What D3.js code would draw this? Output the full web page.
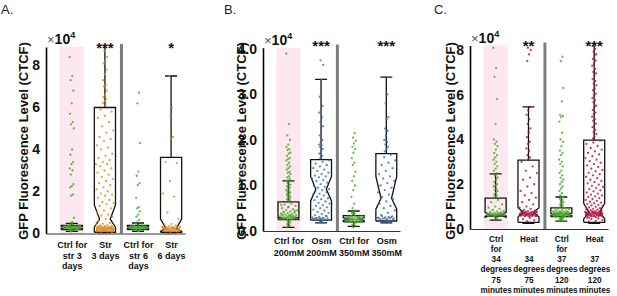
<!DOCTYPE html>
<html>
<head>
<meta charset="utf-8">
<script src="https://cdn.jsdelivr.net/npm/d3@7"></script>
<style>
body { margin: 0; background: #fff; }
svg { font-family: "Liberation Sans", Arial, sans-serif; }
</style>
</head>
<body>
<svg id="chart" width="617" height="296"></svg>
<script>
// all values in units of 1e4 (CTCF)
const labelsA = ["Ctrl for\nstr 3\ndays", "Str\n3 days", "Ctrl for\nstr 6\ndays", "Str\n6 days"];
const labelsB = ["Ctrl for\n200mM", "Osm\n200mM", "Ctrl for\n350mM", "Osm\n350mM"];
const labelsC = ["Ctrl\nfor\n34\ndegrees\n75\nminutes", "Heat\n\n34\ndegrees\n75\nminutes",
                 "Ctrl\nfor\n37\ndegrees\n120\nminutes", "Heat\n\n37\ndegrees\n120\nminutes"];
const ticksA = [0, 2, 4, 6, 8];
const ticksB = [0, 1, 2, 3, 4];
const ticksC = [0, 2, 4, 6, 8];
const starsA = ["", "***", "", "*"];
const starsB = ["", "***", "", "***"];
const starsC = ["", "**", "", "***"];

// box stats: [lower whisker, q1, notch low, median, notch high, q3, upper whisker]
const boxesA = [
  [0.1, 0.18, 0.24, 0.28, 0.32, 0.38, 0.48],
  [0.03, 0.06, 0.3, 0.68, 1.36, 6.0, 9.5],
  [0.1, 0.18, 0.24, 0.28, 0.32, 0.38, 0.5],
  [0.03, 0.06, 0.1, 0.24, 0.7, 3.62, 7.5]];
const boxesB = [
  [0.08, 0.25, 0.26, 0.28, 0.3, 0.64, 1.1],
  [0.18, 0.24, 0.66, 0.92, 1.2, 1.57, 3.33],
  [0.1, 0.2, 0.23, 0.26, 0.29, 0.34, 0.44],
  [0.18, 0.22, 0.48, 0.72, 1.2, 1.7, 3.38]];
const boxesC = [
  [0.4, 0.58, 0.52, 0.62, 0.74, 1.38, 2.46],
  [0.25, 0.3, 0.54, 0.76, 0.95, 3.08, 5.46],
  [0.35, 0.55, 0.6, 0.65, 0.7, 0.94, 1.43],
  [0.25, 0.3, 0.45, 0.75, 1.15, 3.97, 9.5]];

// cell measurements
const a_ctrl3 = [8.4,7.5,7.3,6.8,6.2,5.7,5.3,5.2,5.0,4.0,3.75,3.4,3.3,3.1,3.0,2.8,2.35,2.25,2.2,1.85,1.8,0.75,0.55,0.5,
  0.2,0.22,0.24,0.25,0.26,0.27,0.28,0.28,0.29,0.3,0.3,0.31,0.32,0.33,0.34,0.35,0.36,0.21,0.23,0.25,0.27,0.29,0.3,0.31,
  0.33,0.35,0.37,0.26,0.28,0.3,0.32,0.34,0.24,0.29,0.31,0.27,0.33,0.22,0.36,0.3,0.15,0.12,0.18,0.1,0.4,0.44];
const a_str3 = [8.7,8.4,8.2,8.1,7.8,7.6,7.3,7.1,7.0,6.8,6.6,6.5,6.4,6.3,6.2,6.1,
  5.9,5.8,5.6,5.5,5.3,5.1,4.9,4.8,4.6,4.5,4.4,4.2,4.1,4.0,3.8,3.7,3.6,3.5,3.4,3.3,3.3,3.2,3.1,3.0,2.9,2.8,2.7,2.6,2.5,
  2.4,2.3,2.2,2.1,2.0,1.9,1.85,1.8,1.7,1.6,1.5,1.45,1.4,1.3,1.2,1.1,1.0,0.9,0.85,0.8,0.7,0.6,
  0.5,0.46,0.42,0.4,0.38,0.36,0.35,0.33,0.32,0.31,0.3,0.29,0.28,0.27,0.26,0.25,0.25,0.24,0.23,0.22,0.22,0.21,0.2,0.2,
  0.19,0.18,0.18,0.17,0.16,0.15,0.15,0.14,0.13,0.12,0.12,0.11,0.1,0.09,0.08,0.07,0.3,0.27,0.24,0.21,0.19,0.17,0.34,
  0.28,0.23,0.16];
const a_ctrl6 = [6.7,6.2,4.3,2.95,2.75,2.4,2.3,1.7,1.25,1.2,1.05,0.9,0.8,0.65,0.55,0.48,
  0.2,0.22,0.23,0.24,0.25,0.26,0.27,0.28,0.28,0.29,0.3,0.3,0.31,0.32,0.33,0.34,0.35,0.36,0.37,0.21,0.24,0.26,0.27,
  0.29,0.3,0.31,0.32,0.34,0.25,0.28,0.3,0.33,0.22,0.27,0.29,0.35,0.15,0.12,0.17,0.1];
const a_str6 = [7.5,6.0,5.6,4.6,4.5,3.4,3.35,2.5,1.9,1.75,1.0,0.7,
  0.45,0.42,0.38,0.35,0.33,0.32,0.3,0.29,0.28,0.27,0.26,0.25,0.24,0.23,0.22,0.21,0.2,0.2,0.19,0.18,0.17,0.16,0.15,
  0.14,0.13,0.12,0.11,0.1,0.09,0.08,0.26,0.22,0.19,0.17,0.28,0.24,0.21,0.15,0.31,0.23];

const b_ctrl200 = [3.9,2.35,2.1,2.0,1.9,1.85,1.8,1.78,1.72,1.7,1.65,1.6,1.58,1.55,1.5,1.45,1.42,1.38,1.35,1.3,1.28,
  1.25,1.2,1.18,1.15,1.12,1.1,1.08,1.05,1.02,1.0,0.98,0.95,0.93,0.9,0.88,0.86,0.84,0.82,0.8,0.78,0.76,0.74,0.72,0.7,
  0.68,0.66,0.63,0.6,0.58,0.55,0.53,0.5,0.48,0.46,0.45,0.43,0.42,0.4,0.39,0.38,0.37,0.36,0.35,0.34,0.34,0.33,0.32,
  0.32,0.31,0.3,0.3,0.29,0.29,0.28,0.28,0.27,0.27,0.26,0.26,0.25,0.25,0.26,0.28,0.3,0.33,0.36,0.31,0.29,0.27,0.35,
  0.41,0.44,0.52,0.57,0.23,0.21,0.19,0.17,0.15,0.12,0.1,0.08];
const b_osm200 = [3.75,3.65,3.33,2.95,2.75,2.65,2.6,2.5,2.4,2.3,2.2,2.1,2.0,1.95,1.9,1.88,1.85,1.8,1.75,1.7,1.65,1.6,
  1.55,1.52,1.48,1.45,1.42,1.38,1.35,1.32,1.28,1.25,1.22,1.2,1.18,1.15,1.12,1.1,1.06,1.03,1.0,0.97,0.95,0.92,0.9,
  0.87,0.85,0.82,0.8,0.78,0.75,0.72,0.7,0.68,0.65,0.62,0.6,0.57,0.55,0.52,0.5,0.47,0.45,0.42,0.4,0.37,0.35,0.33,
  0.31,0.3,0.29,0.28,0.27,0.26,0.26,0.25,0.25,0.24,0.27,0.29,0.32,0.28,0.26,0.22,0.2,0.18];
const b_ctrl350 = [2.15,2.05,1.98,1.92,1.85,1.8,1.72,1.6,1.5,1.45,1.3,1.2,1.1,1.0,0.9,0.75,0.6,0.5,0.45,0.42,0.4,
  0.38,0.36,0.34,0.33,0.32,0.31,0.3,0.3,0.29,0.28,0.28,0.27,0.27,0.26,0.26,0.25,0.25,0.24,0.24,0.23,0.23,0.22,0.22,
  0.21,0.2,0.3,0.28,0.26,0.24,0.22,0.29,0.27,0.25,0.23,0.31,0.33,0.18,0.16,0.14,0.12,0.08];
const b_osm350 = [3.38,3.0,2.8,2.5,2.45,2.25,2.2,2.1,2.0,1.95,1.9,1.85,1.8,1.75,
  1.68,1.62,1.55,1.5,1.45,1.38,1.32,1.25,1.2,1.15,1.1,1.05,1.0,0.95,0.9,0.85,0.8,0.75,0.7,0.65,0.6,0.55,0.5,0.45,
  0.4,0.35,0.32,0.3,0.29,0.28,0.27,0.27,0.26,0.26,0.3,0.28,0.29,0.31,0.33,0.25,0.24,0.23,0.22,0.21,0.2];

const c_ctrl34 = [8.1,7.2,6.8,5.8,4.7,4.0,3.9,3.8,3.7,3.55,3.4,3.3,3.2,3.1,3.0,2.9,2.8,2.7,2.6,2.5,2.4,2.3,2.2,2.1,
  2.0,1.95,1.9,1.8,1.75,1.7,1.6,1.55,1.5,1.45,1.4,1.3,1.2,1.1,1.0,0.95,0.9,0.85,0.8,0.78,0.76,0.74,0.72,0.7,0.7,
  0.68,0.67,0.66,0.65,0.64,0.63,0.62,0.62,0.61,0.6,0.6,0.59,0.65,0.68,0.7,0.63,0.66,0.72,0.61,0.64,0.69,0.55,0.5,0.45];
const c_heat34 = [8.1,8.0,7.8,7.5,5.46,5.3,5.1,4.9,4.7,4.5,4.3,4.1,3.9,3.8,3.6,3.5,3.3,3.2,3.1,
  3.0,2.8,2.6,2.5,2.3,2.2,2.0,1.9,1.7,1.6,1.5,1.4,1.3,1.2,1.1,1.0,0.95,0.9,0.85,0.82,0.8,0.78,0.76,0.75,0.74,0.72,
  0.71,0.7,0.7,0.69,0.68,0.67,0.66,0.65,0.65,0.64,0.63,0.62,0.62,0.61,0.6,0.6,0.59,0.58,0.57,0.56,0.55,0.7,0.68,
  0.66,0.64,0.73,0.71,0.69,0.67,0.63,0.61,0.77,0.79,0.5,0.45,0.4,0.35];
const c_ctrl37 = [7.7,7.5,6.3,5.7,5.1,5.05,5.0,4.8,4.3,4.0,3.9,3.7,3.5,3.4,3.3,3.1,3.0,2.9,2.8,2.6,2.5,2.4,2.3,2.2,
  2.1,2.0,1.9,1.8,1.7,1.6,1.5,1.45,1.4,1.35,1.3,1.25,1.2,1.15,1.1,1.05,1.0,0.97,
  0.93,0.9,0.88,0.86,0.84,0.82,0.8,0.79,0.78,0.77,0.76,0.75,0.74,0.73,0.72,0.71,0.7,0.7,0.69,0.68,0.68,0.67,0.66,
  0.66,0.65,0.65,0.64,0.63,0.63,0.62,0.62,0.61,0.6,0.6,0.59,0.58,0.57,0.56,0.55,0.72,0.7,0.68,0.66,0.64,0.62,0.74,
  0.69,0.67,0.65,0.63,0.61,0.6,0.71,0.73,0.58,0.57,0.52,0.5,0.47,0.45,0.42,0.4,0.37,0.35];
const c_heat37 = [8.18,8.05,7.93,7.81,7.74,7.6,7.52,7.38,7.3,7.15,7.02,6.95,6.83,6.7,6.61,6.5,6.42,6.28,6.2,6.05,
  5.98,5.86,5.75,5.66,5.51,5.44,5.32,5.2,5.13,5.02,4.9,4.84,4.71,4.6,4.55,4.43,4.32,4.25,4.14,4.05,
  3.95,3.86,3.8,3.71,3.62,3.55,3.47,3.4,3.33,3.25,3.18,3.1,3.03,2.96,2.9,2.84,2.77,2.7,2.64,2.58,2.51,2.45,2.4,2.33,
  2.27,2.2,2.15,2.1,2.04,1.98,1.93,1.88,1.83,1.78,1.73,1.68,1.63,1.58,1.54,1.5,1.46,1.42,1.38,1.34,1.3,1.26,1.22,
  1.18,1.15,1.12,1.08,1.05,1.02,0.99,0.96,0.93,0.9,0.88,0.86,0.84,0.82,0.8,0.79,0.78,0.77,0.76,0.75,0.74,0.73,0.72,
  0.71,0.7,0.69,0.68,0.67,0.66,0.65,0.64,0.63,0.62,0.61,0.6,0.59,0.58,0.57,0.56,0.55,0.53,0.51,0.76,0.72,0.68,0.64,
  0.6,0.74,0.7,0.66,0.62,0.78,0.73,0.69,0.65,0.61,0.57,0.5,0.47,0.44,0.4,0.36,0.33];

const green = "#45a523", orange = "#d88a1c", blue = "#3d6da6", red = "#a8143a";

const svg = d3.select("#chart");

const panels = [
  { letter: "A.", lx: 1, x0: 46, x1: 185, y0: 233.5, y1: 47, ymax: 8.88, ticks: ticksA, labels: labelsA,
    boxes: boxesA, points: [a_ctrl3, a_str3, a_ctrl6, a_str6], colors: [green, orange, green, orange],
    stars: starsA, starY: 53, ylabX: 27.5, tickSize: 9, tickFirst: 14.5, tickLine: 10.7 },
  { letter: "B.", lx: 224, x0: 263, x1: 400, y0: 231, y1: 47.6, ymax: 4.03, ticks: ticksB, labels: labelsB,
    boxes: boxesB, points: [b_ctrl200, b_osm200, b_ctrl350, b_osm350], colors: [green, blue, green, blue],
    stars: starsB, starY: 51, ylabX: 246, tickSize: 9, tickFirst: 13, tickLine: 12 },
  { letter: "C.", lx: 434, x0: 470, x1: 608, y0: 229, y1: 45.5, ymax: 8.2, ticks: ticksC, labels: labelsC,
    boxes: boxesC, points: [c_ctrl34, c_heat34, c_ctrl37, c_heat37], colors: [green, red, green, red],
    stars: starsC, starY: 51, ylabX: 455, tickSize: 8.2, tickFirst: 12.5, tickLine: 10.3 }
];

panels.forEach(drawPanel);

function drawPanel(p, pi) {
  const x = d3.scaleLinear().domain([0.22, 4.42]).range([p.x0, p.x1]);
  const y = d3.scaleLinear().domain([0, p.ymax]).range([p.y0, p.y1]);
  const g = svg.append("g");

  svg.append("clipPath").attr("id", "clip" + pi)
    .append("rect")
    .attr("x", p.x0).attr("y", p.y1)
    .attr("width", p.x1 - p.x0).attr("height", p.y0 - p.y1);

  // pink band behind the first control
  g.append("rect")
    .attr("x", x(0.63)).attr("width", x(1.37) - x(0.63))
    .attr("y", p.y1).attr("height", p.y0 - p.y1)
    .attr("fill", "#fde8f0");

  // separator between the two experiments
  g.append("line")
    .attr("x1", x(2.5)).attr("x2", x(2.5))
    .attr("y1", p.y1 - 3).attr("y2", p.y0)
    .attr("stroke", "#7d7d7d").attr("stroke-width", 3);

  const plot = g.append("g").attr("clip-path", `url(#clip${pi})`);
  const half = x(1.32) - x(1);
  const nhalf = half / 2;
  const cap = 6;

  p.boxes.forEach((b, i) => {
    const cx = x(i + 1);
    const [wlo, q1, nl, med, nu, q3, whi] = b;
    const L = cx - half, R = cx + half;
    const pts = [[L, q1], [L, nl], [cx - nhalf, med], [L, nu], [L, q3], [R, q3], [R, nu],
                 [cx + nhalf, med], [R, nl], [R, q1], [L, q1]];
    plot.append("path")
      .attr("d", d3.line().x(d => d[0]).y(d => y(d[1]))(pts))
      .attr("fill", "none").attr("stroke", "#111").attr("stroke-width", 1.3)
      .attr("stroke-linejoin", "miter");
    // whiskers
    [[q3, whi], [q1, wlo]].forEach(([a, w]) => {
      plot.append("line").attr("x1", cx).attr("x2", cx).attr("y1", y(a)).attr("y2", y(w))
        .attr("stroke", "#111").attr("stroke-width", 1.3);
      plot.append("line").attr("x1", cx - cap).attr("x2", cx + cap).attr("y1", y(w)).attr("y2", y(w))
        .attr("stroke", "#111").attr("stroke-width", 1.3);
    });
  });

  // jittered cells: wide inside the box, narrow outside
  p.points.forEach((vals, i) => {
    const cx = x(i + 1);
    const q1 = p.boxes[i][1], q3 = p.boxes[i][5];
    plot.append("g").selectAll("circle")
      .data(vals)
      .enter().append("circle")
      .attr("cx", (v, j) => {
        const u = ((j * 0.6180339887 + 0.37 * i) % 1) * 2 - 1;
        const w = (v >= q1 && v <= q3) ? half * 0.85 : 2.2;
        return cx + u * w;
      })
      .attr("cy", v => y(v))
      .attr("r", 1.15)
      .attr("fill", p.colors[i])
      .attr("opacity", 0.8);
  });

  // y axis
  const yAxis = g.append("g")
    .attr("transform", `translate(${p.x0},0)`)
    .call(d3.axisLeft(y).tickValues(p.ticks).tickSize(0).tickSizeOuter(0).tickPadding(6));
  yAxis.select(".domain").attr("stroke", "#000").attr("stroke-width", 1.6);
  yAxis.selectAll(".tick text")
    .attr("font-family", "Liberation Sans, Arial, sans-serif")
    .attr("font-size", 14).attr("font-weight", "bold").attr("fill", "#111");

  // x axis with multi-line labels
  const xAxis = g.append("g")
    .attr("transform", `translate(0,${p.y0})`)
    .call(d3.axisBottom(x).tickValues([1, 2, 3, 4]).tickSize(0).tickSizeOuter(0).tickFormat(""));
  xAxis.select(".domain").attr("stroke", "#333").attr("stroke-width", 1.2);
  xAxis.selectAll(".tick text").each(function (d, i) {
    const t = d3.select(this).attr("y", null).attr("dy", null).text("")
      .attr("font-family", "Liberation Sans, Arial, sans-serif")
      .attr("font-size", p.tickSize).attr("font-weight", "bold").attr("fill", "#111");
    p.labels[i].split("\n").forEach((line, k) => {
      if (line) t.append("tspan").attr("x", 0).attr("y", p.tickFirst + k * p.tickLine).text(line);
    });
  });

  // exponent
  const ex = g.append("text").attr("x", p.x0 + 1).attr("y", p.y1 - 3).attr("fill", "#111");
  ex.append("tspan").attr("font-size", 13).attr("fill", "#555").text("×");
  ex.append("tspan").attr("font-size", 14).attr("font-weight", "bold").text("10");
  ex.append("tspan").attr("font-size", 9).attr("font-weight", "bold").attr("dy", -6).text("4");

  // significance stars
  g.selectAll("text.star")
    .data(p.stars)
    .enter().append("text")
    .attr("class", "star")
    .attr("x", (d, i) => x(i + 1))
    .attr("y", p.starY)
    .attr("text-anchor", "middle")
    .attr("font-size", 15).attr("font-weight", "bold").attr("fill", "#111")
    .text(d => d);

  // y label
  g.append("text")
    .attr("transform", `translate(${p.ylabX},141) rotate(-90)`)
    .attr("text-anchor", "middle")
    .attr("font-size", 13).attr("font-weight", "bold").attr("fill", "#111")
    .text("GFP Fluorescence Level (CTCF)");

  // panel letter
  g.append("text")
    .attr("x", p.lx).attr("y", 14)
    .attr("font-size", 13).attr("fill", "#222")
    .text(p.letter);
}
</script>
</body>
</html>
